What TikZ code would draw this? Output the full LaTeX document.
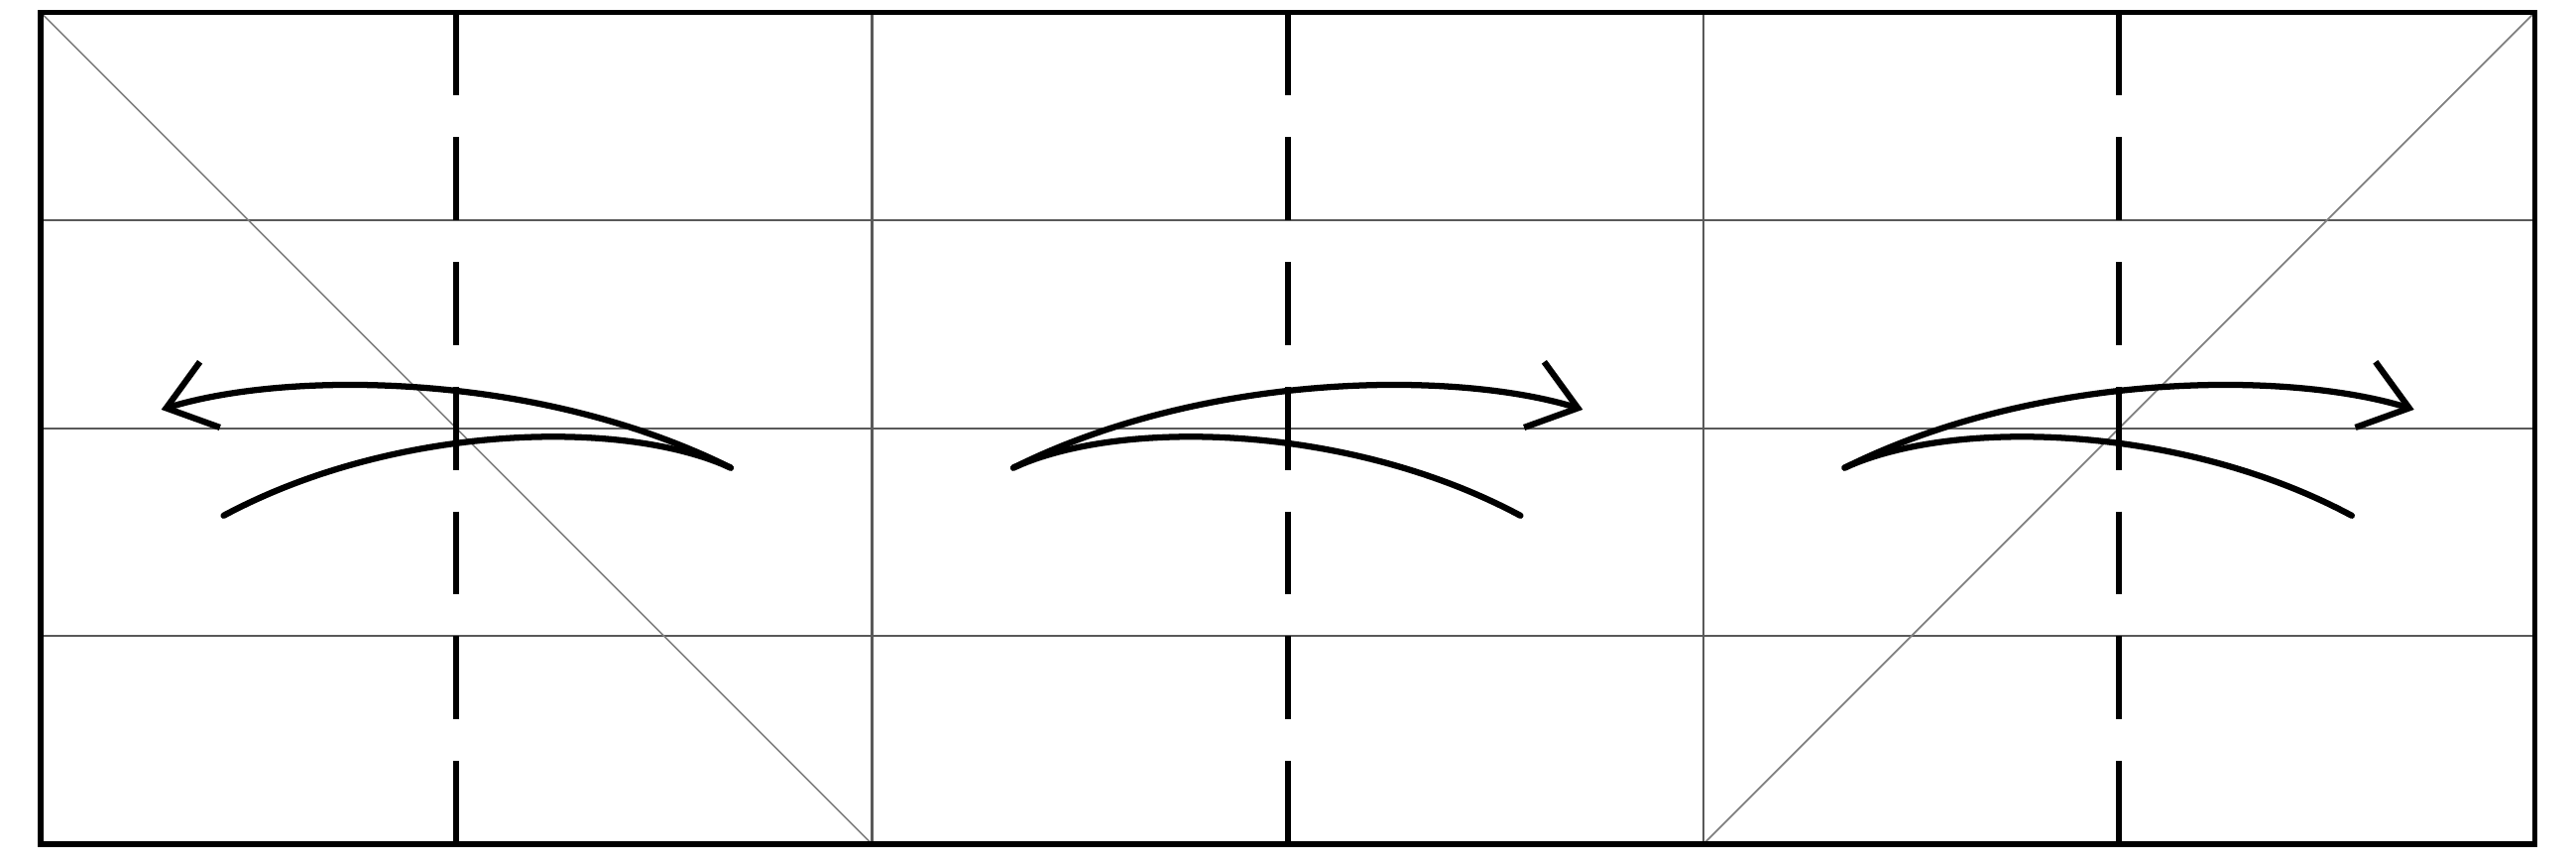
\documentclass[tikz,border=0pt]{standalone}
\usepackage{tikz}
\usetikzlibrary{arrows.meta}

\begin{document}
\begin{tikzpicture}[
      x=2cm, y=2cm,
      frame/.style={line width=1.5pt, draw=black},
      grid/.style={line width=0.6pt, draw=black!65},
      diag/.style={line width=0.45pt, draw=black!50},
      fold/.style={line width=1.6pt, draw=black, dash pattern=on 8mm off 4mm},
      flap/.style={line width=1.7pt, draw=black, line cap=round},
      arr/.style={flap, -{Straight Barb[length=4.4mm, width=6.6mm]}}
    ]
      \useasboundingbox (-0.196,-0.095) rectangle (12.199,4.06);
      % thin grid and diagonals
      \foreach \y in {1,2,3}
        \draw[grid] (0,\y) -- (12,\y);
      \foreach \x in {4,8}
        \draw[grid] (\x,0) -- (\x,4);
      \draw[diag] (0,4) -- (4,0);
      \draw[diag] (8,0) -- (12,4);
      % fold lines
      \foreach \x in {2,6,10}
        \draw[fold] (\x,4) -- (\x,0);
      % flaps, the left one mirrored
      \foreach \sh/\fl in {8/-1,8/1,16/1}{
        \begin{scope}[xshift=\sh cm, xscale=\fl]
          \coordinate (cusp) at (0.68,1.81);
          \coordinate (tip) at (3.42,2.09);
          \coordinate (tail) at (3.12,1.58);
          \draw[arr] (cusp) .. controls (1.6,2.27) and (2.8,2.28) .. (tip);
          \draw[flap] (cusp) .. controls (1.2,2.05) and (2.3,2.02) .. (tail);
        \end{scope}
      }
      \draw[frame] (0,0) rectangle (12,4);
\end{tikzpicture}
\end{document}
